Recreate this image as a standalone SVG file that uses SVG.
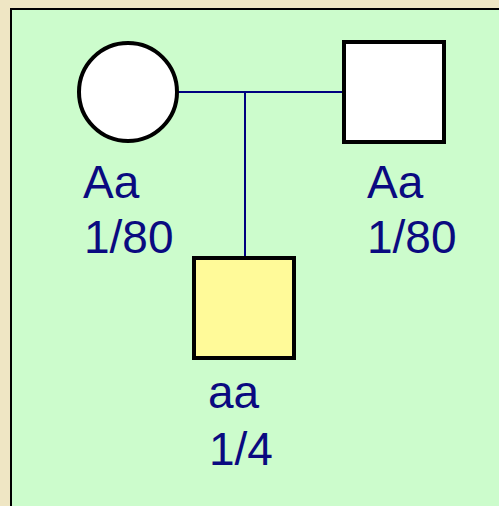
<svg xmlns="http://www.w3.org/2000/svg" width="499" height="506" viewBox="0 0 499 506">
<style>
.lbl{font-family:"Liberation Sans",Arial,sans-serif;font-size:46px;fill:#0a0a80}
.sym{stroke:#000;stroke-width:4}
.con{stroke:#000080;stroke-width:2;fill:none}
</style>
<rect x="0" y="0" width="499" height="506" fill="#efe6c4"/>
<rect x="11" y="9" width="490" height="500" fill="#ccfccc" stroke="#000" stroke-width="2"/>
<g id="connectors">
<line class="con" x1="178" y1="92" x2="343" y2="92"/>
<line class="con" x1="245" y1="92" x2="245" y2="257"/>
</g>
<g id="mother">
<circle class="sym" cx="128" cy="92" r="49" fill="#fff"/>
<text class="lbl" x="83" y="198">Aa</text>
<text class="lbl" x="84" y="253">1/80</text>
</g>
<g id="father">
<rect class="sym" x="344" y="42" width="100" height="100" fill="#fff"/>
<text class="lbl" x="367" y="198">Aa</text>
<text class="lbl" x="367" y="253">1/80</text>
</g>
<g id="child">
<rect class="sym" x="194" y="258" width="100" height="100" fill="#fffa99"/>
<text class="lbl" x="208" y="408">aa</text>
<text class="lbl" x="209" y="465">1/4</text>
</g>
</svg>
